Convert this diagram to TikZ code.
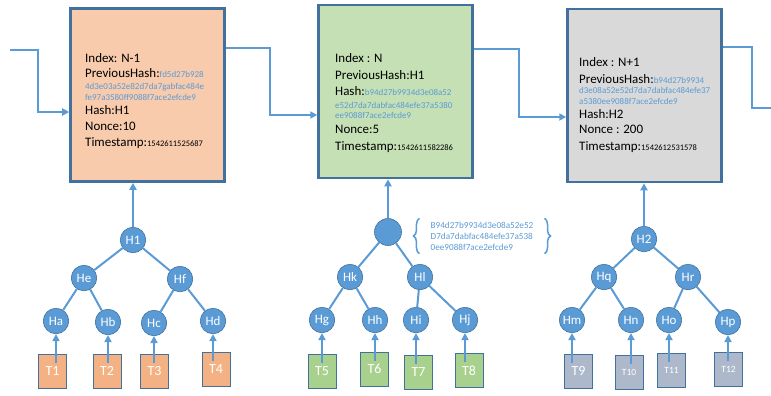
\documentclass[tikz,border=0pt]{standalone}
\usepackage{fontspec}
\setmainfont{Carlito}
\usetikzlibrary{arrows.meta,calc,decorations.pathreplacing}

\definecolor{linkblue}{HTML}{5B9BD5}
\definecolor{edgeblue}{HTML}{41719C}
\definecolor{blockpeach}{HTML}{F8CBAD}
\definecolor{txpeach}{HTML}{F4B183}
\definecolor{blockgreen}{HTML}{C5E0B4}
\definecolor{txgreen}{HTML}{A9D18E}
\definecolor{blockgray}{HTML}{D9D9D9}
\definecolor{txgray}{HTML}{ADB9CA}

\newcommand{\hashtext}[1]{{\fontsize{9}{11}\selectfont\color{linkblue}#1}}
\newcommand{\stamptext}[1]{{\fontsize{8.5}{10}\selectfont #1}}

\tikzset{
  block/.style={draw=edgeblue, line width=2.5bp, minimum width=154bp, minimum height=173bp, inner sep=0pt},
  info/.style={align=left, anchor=north west, inner sep=0pt, font=\fontsize{13}{16}\selectfont},
  hnode/.style={circle, fill=linkblue, draw=edgeblue, line width=0.6bp, minimum size=25.5bp, inner sep=0pt, text=white, font=\fontsize{13}{14}\selectfont},
  tx/.style={draw=edgeblue, line width=0.6bp, minimum width=28bp, minimum height=34bp, inner sep=0pt, text=white, font=\fontsize{14}{15}\selectfont},
  link/.style={draw=linkblue, line width=1.8bp, -{Triangle[length=7bp,width=7bp]}},
  branch/.style={draw=linkblue, line width=2bp},
  hbrace/.style={draw=linkblue, line width=1.5bp, decorate, decoration={brace, amplitude=6bp}},
}

\begin{document}
\begin{tikzpicture}[x=1bp, y=-1bp]
  \useasboundingbox (0,0) rectangle (771,395);

  \node[block, fill=blockpeach] (b1) at (147.5,95) {};
  \node[block, fill=blockgreen] (b2) at (395.5,91.5) {};
  \node[block, fill=blockgray] (b3) at (644.5,95.5) {};

  \node[info] (i1) at (85,53) {Index: N-1\\[-1bp]
    PreviousHash:\hashtext{fd5d27b928}\\[-3.5bp]
    \hashtext{4d3e03a52e82d7da7gabfac484e}\\[-5bp]
    \hashtext{fe97a3580ff9088f7ace2efcde9}\\[-1.5bp]
    Hash:H1\\
    Nonce:10\\
    Timestamp:\stamptext{1542611525687}};
  \node[info] (i2) at (335,53) {Index : N\\[1bp]
    PreviousHash:H1\\
    Hash:\hashtext{b94d27b9934d3e08a52}\\[-3bp]
    \hashtext{e52d7da7dabfac484efe37a5380}\\[-5bp]
    \hashtext{ee9088f7ace2efcde9}\\[-1bp]
    Nonce:5\\[0.5bp]
    Timestamp:\stamptext{1542611582286}};
  \node[info] (i3) at (579,57) {Index : N+1\\[1bp]
    PreviousHash:\hashtext{b94d27b9934}\\[-5.5bp]
    \hashtext{d3e08a52e52d7da7dabfac484efe37}\\[-5.5bp]
    \hashtext{a5380ee9088f7ace2efcde9}\\[-1bp]
    Hash:H2\\[-1bp]
    Nonce : 200\\[0.5bp]
    Timestamp:\stamptext{1542612531578}};

  \coordinate (in1) at (10,50);
  \coordinate (j0) at (38,112);
  \coordinate (j1) at (270,115);
  \coordinate (j2) at (519,117);
  \coordinate (j3) at (752,108);
  \coordinate (out3) at (771,108);
  \draw[link] (in1) -| (j0) -- (b1.west |- j0);
  \draw[link] (b1.east |- 0,48) -| (j1) -- (b2.west |- j1);
  \draw[link] (b2.east |- 0,49) -| (j2) -- (b3.west |- j2);
  \draw[branch] (b3.east |- 0,47) -| (j3) -- (out3);

  \node[hnode] (H1) at (133,240) {H1};
  \node[hnode] (He) at (84,278) {He};
  \node[hnode] (Hf) at (180,279) {Hf};
  \node[hnode] (Ha) at (56,321) {Ha};
  \node[hnode] (Hb) at (108,322) {Hb};
  \node[hnode] (Hc) at (154,323) {Hc};
  \node[hnode] (Hd) at (213,321) {Hd};
  \node[tx, fill=txpeach] (T1) at (52.5,371) {T1};
  \node[tx, fill=txpeach] (T2) at (107,371) {T2};
  \node[tx, fill=txpeach] (T3) at (154.5,371) {T3};
  \node[tx, fill=txpeach] (T4) at (216,369.5) {T4};

  \node[hnode, minimum size=27bp] (R) at (388,232) {};
  \node[hnode] (Hk) at (350,277) {Hk};
  \node[hnode] (Hl) at (420,277) {Hl};
  \node[hnode] (Hg) at (322,320) {Hg};
  \node[hnode] (Hh) at (375,320) {Hh};
  \node[hnode] (Hi) at (416,320) {Hi};
  \node[hnode] (Hj) at (465,320) {Hj};
  \node[tx, fill=txgreen] (T5) at (322,371) {T5};
  \node[tx, fill=txgreen] (T6) at (374.5,369) {T6};
  \node[tx, fill=txgreen] (T7) at (418.5,372.5) {T7};
  \node[tx, fill=txgreen] (T8) at (469,370.5) {T8};

  \node[hnode] (H2) at (644,239) {H2};
  \node[hnode] (Hq) at (604,277) {Hq};
  \node[hnode] (Hr) at (688,277) {Hr};
  \node[hnode] (Hm) at (572,320) {Hm};
  \node[hnode] (Hn) at (631,320) {Hn};
  \node[hnode] (Ho) at (669,320) {Ho};
  \node[hnode] (Hp) at (728,322) {Hp};
  \node[tx, fill=txgray] (T9) at (578.5,371) {T9};
  \node[tx, fill=txgray, font=\fontsize{9.5}{10}\selectfont] (T10) at (629,372) {T10};
  \node[tx, fill=txgray, font=\fontsize{9.5}{10}\selectfont] (T11) at (671.5,370) {T11};
  \node[tx, fill=txgray, font=\fontsize{9.5}{10}\selectfont] (T12) at (728.5,369) {T12};

  \draw[branch] (H1) -- (He);
  \draw[branch] (H1) -- (Hf);
  \draw[branch] (He) -- (Ha);
  \draw[branch] (He) -- (Hb);
  \draw[branch] (Hf) -- (Hc);
  \draw[branch] (Hf) -- (Hd);
  \draw[branch] (R) -- (Hk);
  \draw[branch] (R) -- (Hl);
  \draw[branch] (Hk) -- (Hg);
  \draw[branch] (Hk) -- (Hh);
  \draw[branch] (Hl) -- (Hi);
  \draw[branch] (Hl) -- (Hj);
  \draw[branch] (H2) -- (Hq);
  \draw[branch] (H2) -- (Hr);
  \draw[branch] (Hq) -- (Hm);
  \draw[branch] (Hq) -- (Hn);
  \draw[branch] (Hr) -- (Ho);
  \draw[branch] (Hr) -- (Hp);

  \draw[link] (H1.north) -- (H1.north |- b1.south);
  \draw[link] (R.north) -- (R.north |- b2.south);
  \draw[link] (H2.north) -- (H2.north |- b3.south);

  \foreach \leaf/\tx in {Ha/T1, Hb/T2, Hc/T3, Hd/T4, Hg/T5, Hh/T6, Hi/T7, Hj/T8, Hm/T9, Hn/T10, Ho/T11, Hp/T12}
    \draw[link] ($(\leaf.south |- \tx.north)+(0,9)$) -- (\leaf.south);

  \node[align=left, inner xsep=11bp, inner ysep=2bp, minimum height=35bp, text=linkblue, font=\fontsize{9.2}{11}\selectfont] (roothash) at (482,236) {B94d27b9934d3e08a52e52\\D7da7dabfac484efe37a538\\0ee9088f7ace2efcde9};
  \draw[hbrace] (roothash.south west) -- (roothash.north west);
  \draw[hbrace] (roothash.north east) -- (roothash.south east);
\end{tikzpicture}
\end{document}
